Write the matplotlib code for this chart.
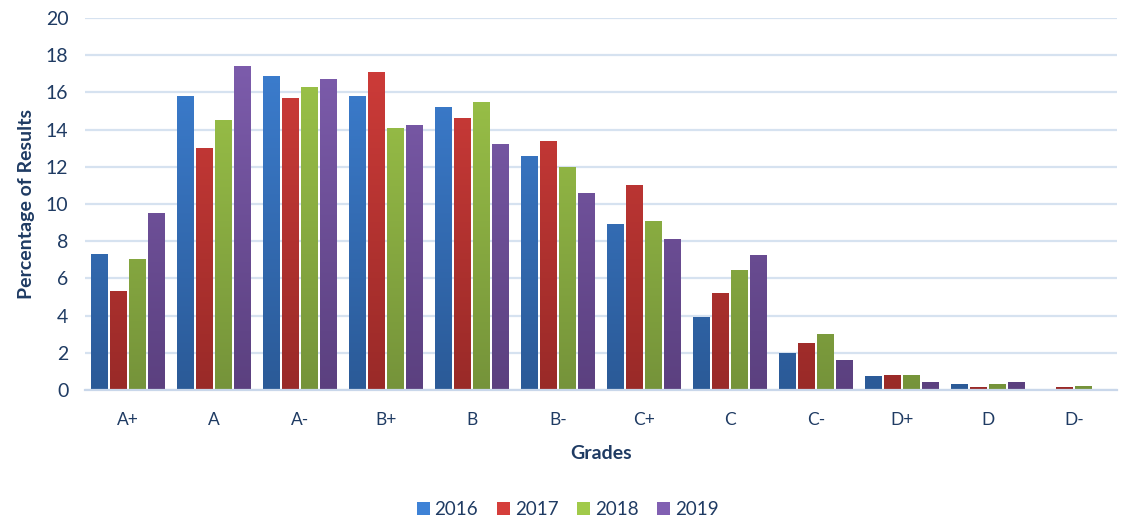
import numpy as np
import matplotlib
matplotlib.use('Agg')
import matplotlib.pyplot as plt
from matplotlib.colors import LinearSegmentedColormap
from matplotlib.patches import Patch

plt.rcParams['font.family'] = ['Lato', 'DejaVu Sans']

# Data
grades = ['A+', 'A', 'A-', 'B+', 'B', 'B-', 'C+', 'C', 'C-', 'D+', 'D', 'D-']
y2016 = [7.3, 15.8, 16.9, 15.8, 15.2, 12.6, 8.9, 3.9, 2.0, 0.75, 0.3, 0.05]
y2017 = [5.3, 13.0, 15.7, 17.1, 14.6, 13.4, 11.0, 5.2, 2.5, 0.8, 0.17, 0.17]
y2018 = [7.05, 14.5, 16.3, 14.1, 15.5, 12.0, 9.1, 6.45, 3.0, 0.8, 0.3, 0.2]
y2019 = [9.5, 17.4, 16.7, 14.25, 13.2, 10.6, 8.1, 7.25, 1.6, 0.43, 0.43, 0.05]
years = ['2016', '2017', '2018', '2019']

# (top colour, bottom colour) for each series
shades = [('#3e82d6', '#2b5a97'), ('#d53e3b', '#992a28'),
          ('#a1ca4a', '#75933a'), ('#8160b2', '#5b407f')]
text_col = '#1f3b63'

fig = plt.figure(figsize=(11.24, 5.27), dpi=100)
ax = fig.add_axes([0.0756, 0.26, 0.918, 0.706])

x = np.arange(len(grades))
step = 0.22
width = 0.19
ymax = 20

for i, (vals, (top, bot)) in enumerate(zip([y2016, y2017, y2018, y2019], shades)):
    cmap = LinearSegmentedColormap.from_list('g%d' % i, [bot, top])
    grad = np.linspace(0, 1, 256).reshape(-1, 1)
    bars = ax.bar(x + (i - 1.5) * step, vals, width, color=top, zorder=2)
    for b in bars:
        b.set_facecolor('none')
        b.set_edgecolor('none')
        x0, w = b.get_x(), b.get_width()
        im = ax.imshow(grad, cmap=cmap, origin='lower', aspect='auto',
                       extent=[x0, x0 + w, 0, ymax], zorder=2)
        im.set_clip_path(b)

ax.set_xlim(-0.5, len(grades) - 0.5)
ax.set_ylim(0, ymax)
ax.set_yticks(range(0, 21, 2))
ax.set_xticks(x)
ax.set_xticklabels(grades)
ax.grid(axis='y', color='#d6e2f0', linewidth=1.6, zorder=0)
ax.set_axisbelow(True)
for s in ['top', 'right', 'left']:
    ax.spines[s].set_visible(False)
ax.spines['bottom'].set_color('#c9d7ea')
ax.spines['bottom'].set_linewidth(1.6)
ax.tick_params(axis='y', length=0, labelsize=14, labelcolor=text_col, pad=12)
ax.tick_params(axis='x', length=0, labelsize=12.5, labelcolor=text_col, pad=16)

ax.set_ylabel('Percentage of Results', fontsize=14, fontweight='bold', color=text_col, labelpad=8)
ax.set_xlabel('Grades', fontsize=14, fontweight='bold', color=text_col, labelpad=12)

handles = [Patch(facecolor=c[0], edgecolor='none') for c in shades]
fig.legend(handles, years, loc='lower center', bbox_to_anchor=(0.505, -0.015), ncol=4,
           frameon=False, fontsize=13.5, labelcolor=text_col,
           handlelength=0.7, handleheight=0.7, handletextpad=0.25, columnspacing=1.0)

fig.savefig('out.png', dpi=100)
